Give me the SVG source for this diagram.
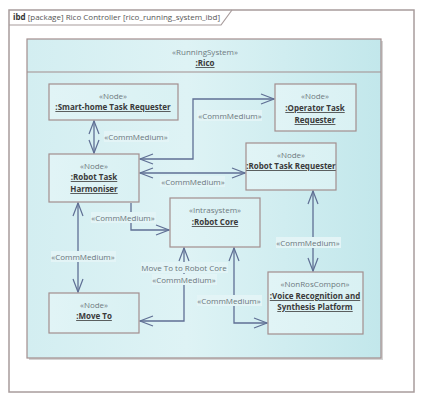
<svg xmlns="http://www.w3.org/2000/svg" width="423" height="401" viewBox="0 0 423 401">
<defs>
<linearGradient id="gRico" x1="0" y1="0" x2="1" y2="0">
<stop offset="0" stop-color="#d3eef1"/>
<stop offset="0.45" stop-color="#def3f5"/>
<stop offset="1" stop-color="#c2e7eb"/>
</linearGradient>
<linearGradient id="gNode" x1="0" y1="0" x2="1" y2="0">
<stop offset="0" stop-color="#e1f4f6"/>
<stop offset="1" stop-color="#d9f1f3"/>
</linearGradient>
<marker id="arr" viewBox="-15 -7 17 14" refX="0" refY="0" markerWidth="17" markerHeight="14" markerUnits="userSpaceOnUse" orient="auto-start-reverse">
<path d="M-13,-5 L0,0 L-13,5" fill="none" stroke="#5f6f94" stroke-width="1.2"/>
</marker>
</defs>
<style>
.frame{fill:#fff;stroke:#a89c9c;stroke-width:1.5}
.node{fill:url(#gNode);stroke:#a28e8e;stroke-width:1.2}
.st{font-family:"Open Sans","Liberation Sans",sans-serif;font-size:8px;fill:#6e7a80;text-anchor:middle}
.nm{font-family:"Open Sans","Liberation Sans",sans-serif;font-size:8px;font-weight:bold;fill:#3a3a3a;text-anchor:middle;text-decoration:underline}
.lbl{font-family:"Open Sans","Liberation Sans",sans-serif;font-size:8px;fill:#6a767c;text-anchor:middle}
.lbg{fill:#e3f4f6}
.cn{fill:none;stroke:#5f6f94;stroke-width:1.3}
.title{font-family:"Open Sans","Liberation Sans",sans-serif;font-size:8px;fill:#555}
</style>
<rect x="0" y="0" width="423" height="401" fill="#fff"/>
<g id="frame">
<rect class="frame" x="9" y="10" width="405" height="382"/>
<path d="M9,25 L221,25 L232,10" fill="none" stroke="#a89c9c" stroke-width="1.2"/>
<text class="title" x="13" y="20"><tspan font-weight="bold" fill="#333">ibd</tspan> [package] Rico Controller [rico_running_system_ibd]</text>
</g>
<g id="rico">
<rect x="29" y="41" width="354" height="319" fill="#b8b8b8" opacity="0.6"/>
<rect x="27" y="39" width="354" height="319" fill="url(#gRico)" stroke="#a28e8e" stroke-width="1.2"/>
<line x1="27" y1="72" x2="381" y2="72" stroke="#a28e8e" stroke-width="1.2"/>
<text class="st" x="205" y="55">«RunningSystem»</text>
<text class="nm" x="205" y="66">:Rico</text>
</g>
<g id="connectors">
<line class="cn" x1="94" y1="121" x2="94" y2="153" marker-start="url(#arr)" marker-end="url(#arr)"/>
<polyline class="cn" points="140,159 193,159 193,99 274,99" marker-start="url(#arr)" marker-end="url(#arr)"/>
<line class="cn" x1="140" y1="173" x2="245" y2="173" marker-start="url(#arr)" marker-end="url(#arr)"/>
<polyline class="cn" points="131,203 131,230 169,230" marker-end="url(#arr)"/>
<line class="cn" x1="78" y1="203" x2="78" y2="292" marker-start="url(#arr)" marker-end="url(#arr)"/>
<polyline class="cn" points="140,321 184,321 184,248" marker-start="url(#arr)" marker-end="url(#arr)"/>
<polyline class="cn" points="234,248 234,323 267,323" marker-start="url(#arr)" marker-end="url(#arr)"/>
<line class="cn" x1="313" y1="191" x2="313" y2="271" marker-start="url(#arr)" marker-end="url(#arr)"/>
<rect class="lbg" x="104" y="131" width="65" height="11"/>
<text class="lbl" x="136" y="140">«CommMedium»</text>
<rect class="lbg" x="197" y="110" width="65" height="11"/>
<text class="lbl" x="230" y="119">«CommMedium»</text>
<rect class="lbg" x="160" y="176" width="65" height="11"/>
<text class="lbl" x="193" y="185">«CommMedium»</text>
<rect class="lbg" x="91" y="212" width="65" height="11"/>
<text class="lbl" x="123" y="221">«CommMedium»</text>
<rect class="lbg" x="51" y="251" width="65" height="11"/>
<text class="lbl" x="83" y="260">«CommMedium»</text>
<rect class="lbg" x="141" y="262" width="87" height="11"/>
<text class="lbl" x="184" y="271">Move To to Robot Core</text>
<rect class="lbg" x="152" y="274" width="65" height="11"/>
<text class="lbl" x="184" y="283">«CommMedium»</text>
<rect class="lbg" x="197" y="295" width="65" height="11"/>
<text class="lbl" x="229" y="304">«CommMedium»</text>
<rect class="lbg" x="276" y="237" width="65" height="11"/>
<text class="lbl" x="308" y="246">«CommMedium»</text>
</g>
<g id="smarthome">
<rect class="node" x="49" y="84" width="129" height="36"/>
<text class="st" x="113" y="99">«Node»</text>
<text class="nm" x="113" y="110">:Smart-home Task Requester</text>
</g>
<g id="harmoniser">
<rect class="node" x="49" y="154" width="90" height="48"/>
<text class="st" x="94" y="169">«Node»</text>
<text class="nm" x="94" y="180">:Robot Task</text>
<text class="nm" x="94" y="192">Harmoniser</text>
</g>
<g id="operator">
<rect class="node" x="275" y="84" width="81" height="47"/>
<text class="st" x="315" y="99">«Node»</text>
<text class="nm" x="315" y="111">:Operator Task</text>
<text class="nm" x="315" y="123">Requester</text>
</g>
<g id="robotrequester">
<rect class="node" x="246" y="143" width="90" height="47"/>
<text class="st" x="291" y="158">«Node»</text>
<text class="nm" x="291" y="169">:Robot Task Requester</text>
</g>
<g id="robotcore">
<rect class="node" x="170" y="198" width="90" height="49"/>
<text class="st" x="215" y="213">«Intrasystem»</text>
<text class="nm" x="215" y="225">:Robot Core</text>
</g>
<g id="moveto">
<rect class="node" x="49" y="293" width="90" height="40"/>
<text class="st" x="94" y="308">«Node»</text>
<text class="nm" x="94" y="319">:Move To</text>
</g>
<g id="voice">
<rect class="node" x="268" y="272" width="95" height="62"/>
<text class="st" x="315" y="287">«NonRosCompon»</text>
<text class="nm" x="315" y="299">:Voice Recognition and</text>
<text class="nm" x="315" y="310">Synthesis Platform</text>
</g>
</svg>
